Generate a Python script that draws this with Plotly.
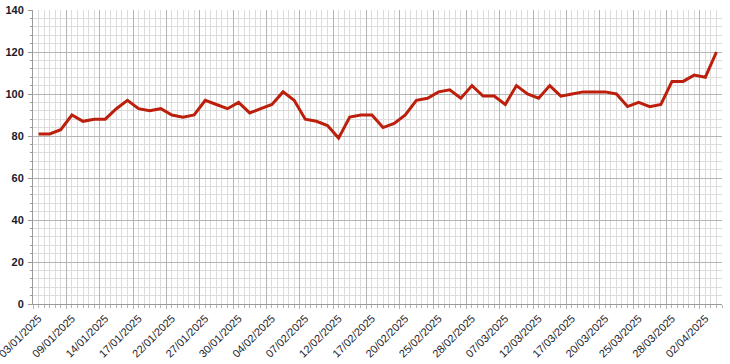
import plotly.graph_objects as go

dates = [
    "03/01/2025", "06/01/2025", "08/01/2025", "09/01/2025", "10/01/2025", "13/01/2025",
    "14/01/2025", "15/01/2025", "16/01/2025", "17/01/2025", "20/01/2025", "21/01/2025",
    "22/01/2025", "23/01/2025", "24/01/2025", "27/01/2025", "28/01/2025", "29/01/2025",
    "30/01/2025", "31/01/2025", "03/02/2025", "04/02/2025", "05/02/2025", "06/02/2025",
    "07/02/2025", "10/02/2025", "11/02/2025", "12/02/2025", "13/02/2025", "14/02/2025",
    "17/02/2025", "18/02/2025", "19/02/2025", "20/02/2025", "21/02/2025", "24/02/2025",
    "25/02/2025", "26/02/2025", "27/02/2025", "28/02/2025", "04/03/2025", "05/03/2025",
    "07/03/2025", "10/03/2025", "11/03/2025", "12/03/2025", "13/03/2025", "14/03/2025",
    "17/03/2025", "18/03/2025", "19/03/2025", "20/03/2025", "21/03/2025", "24/03/2025",
    "25/03/2025", "26/03/2025", "27/03/2025", "28/03/2025", "31/03/2025", "01/04/2025",
    "02/04/2025", "03/04/2025",
]

values = [
    81, 81, 83, 90, 87, 88, 88, 93, 97, 93, 92, 93,
    90, 89, 90, 97, 95, 93, 96, 91, 93, 95, 101, 97,
    88, 87, 85, 79, 89, 90, 90, 84, 86, 90, 97, 98,
    101, 102, 98, 104, 99, 99, 95, 104, 100, 98, 104, 99,
    100, 101, 101, 101, 100, 94, 96, 94, 95, 106, 106, 109,
    108, 120,
]

label_step = 3
idx = list(range(len(dates)))
tick_idx = idx[::label_step]
tick_text = [dates[i] for i in tick_idx]

LINE = "#BC1F0C"
MAJOR = "#B4B4B4"
MINOR = "#DCDCDC"
TXT = "#1a1a2a"
FONT = "Liberation Sans, Arial, sans-serif"

fig = go.Figure()
# invisible helper trace so the grid axis is drawn
fig.add_trace(go.Scatter(x=idx, y=values, xaxis="x2", yaxis="y",
                         mode="lines", line=dict(width=0, color="rgba(0,0,0,0)"),
                         hoverinfo="skip", showlegend=False))
fig.add_trace(go.Scatter(x=idx, y=values, mode="lines",
                         line=dict(color=LINE, width=3), showlegend=False))

xr = [-0.5, len(dates) - 0.5]

fig.update_layout(
    width=730, height=364,
    margin=dict(l=33, r=8, t=10, b=60, autoexpand=False),
    paper_bgcolor="white", plot_bgcolor="white",
    font=dict(family=FONT, color=TXT),
    xaxis=dict(
        range=xr, tickmode="array", tickvals=tick_idx, ticktext=tick_text,
        tickangle=-45, showgrid=False, zeroline=False, ticks="",
        tickfont=dict(size=11, color=TXT, family=FONT),
        showline=False, automargin=False, ticklabeloverflow="allow",
        ticklabelstandoff=5,
    ),
    xaxis2=dict(
        overlaying="x", matches="x", range=xr, side="bottom",
        tickmode="linear", tick0=-0.5, dtick=label_step,
        showticklabels=False, showgrid=True, gridcolor=MAJOR, gridwidth=1,
        ticks="outside", ticklen=4, tickcolor=MAJOR,
        minor=dict(tick0=-0.5, dtick=0.5, showgrid=True, gridcolor=MINOR,
                   gridwidth=1, ticks="outside", ticklen=3, tickcolor=MAJOR),
        showline=True, linecolor="#9a9a9a", linewidth=1, zeroline=False,
        layer="below traces", automargin=False,
    ),
    yaxis=dict(
        range=[0, 140], tickmode="linear", tick0=0, dtick=20,
        showgrid=True, gridcolor=MAJOR, gridwidth=1,
        ticks="outside", ticklen=4, tickcolor="#9a9a9a",
        minor=dict(dtick=4, showgrid=True, gridcolor=MINOR, gridwidth=1,
                   ticks="outside", ticklen=2, tickcolor="#9a9a9a"),
        showline=True, linecolor="#9a9a9a", linewidth=1, zeroline=False,
        tickfont=dict(size=11, color=TXT, family=FONT, weight="bold"),
        ticklabelstandoff=2, automargin=False, ticklabeloverflow="allow",
    ),
)

fig.write_html(
    "out.html",
    config={"displayModeBar": False},
    post_script="document.body.style.margin='0';document.body.style.overflow='hidden';",
)
